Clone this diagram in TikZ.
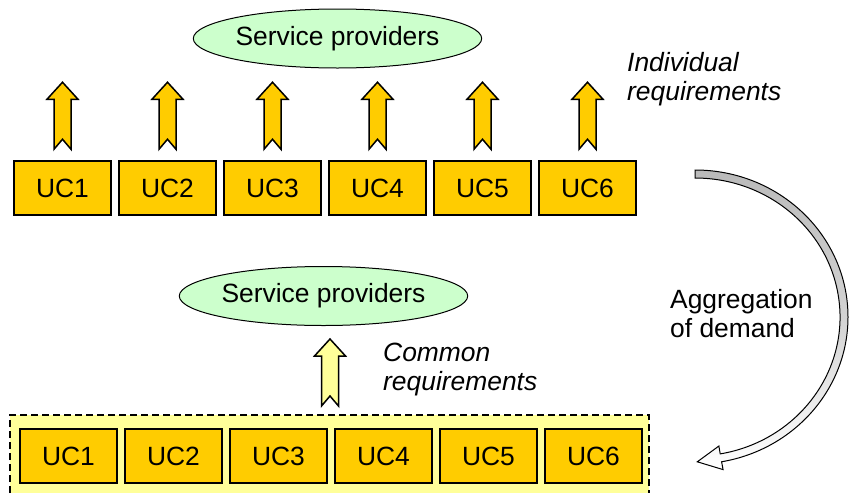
\documentclass[tikz,border=0pt]{standalone}
\usepackage{fontspec}
\setmainfont{Liberation Sans}
\usetikzlibrary{calc,shapes.geometric}
\definecolor{ucyellow}{HTML}{FFCC00}
\definecolor{poolyellow}{HTML}{FFFF99}
\definecolor{provgreen}{HTML}{CCFFCC}
\begin{document}
\begin{tikzpicture}[x=1pt,y=-1pt,
  every node/.style={font=\fontsize{26.4}{29}\selectfont},
  ucbox/.style={draw, line width=1.5pt, fill=ucyellow, minimum width=97pt,
    minimum height=54pt, inner sep=0pt},
  provider/.style={ellipse, draw, line width=1pt, fill=provgreen,
    minimum width=253pt, minimum height=59pt, inner sep=0pt},
  note/.style={align=left, inner sep=0pt, anchor=base west},
  reqarrow/.pic={
    \filldraw[line width=1.5pt, line join=miter, pic actions]
      (0,-33.5) -- (15.5,-16.5) -- (8.5,-16.5) -- (8.5,33.5) -- (0,23.5)
      -- (-8.5,33.5) -- (-8.5,-16.5) -- (-15.5,-16.5) -- cycle;
  }
]
\useasboundingbox (0,0) rectangle (849,493);

% individual use cases and their separate requirements
\node[provider] (sp1) at (337.5,38.5) {Service providers};
\foreach \i/\x in {1/62.5,2/167.5,3/272.5,4/377.5,5/482.5,6/587.5} {
  \node[ucbox] (t\i) at (\x,188) {UC\i};
  \pic[fill=ucyellow] at ($(t\i.north)+(0,-44.5)$) {reqarrow};
}
\node[note, font=\fontsize{26.4}{29}\selectfont\itshape] (indiv) at (627,100)
  {Individual\\requirements};

% pooled use cases with one common requirement
\fill[poolyellow] (10,415) rectangle (649,493);
\draw[line width=1.5pt, dash pattern=on 7pt off 4pt]
  (10,493) -- (10,415) -- (649,415) -- (649,493);
\foreach \i/\x in {1/68.5,2/173.5,3/278.5,4/383.5,5/488.5,6/593.5}
  \node[ucbox] (b\i) at (\x,456) {UC\i};
\node[provider] (sp2) at (323.5,296) {Service providers};
\pic[fill=poolyellow] at (330,372.5) {reqarrow};
\node[note, font=\fontsize{26.4}{29}\selectfont\itshape] (common) at (383,390)
  {Common\\requirements};

% curved arrow: aggregation step
\draw[line width=1pt, line join=miter, top color=black!27, bottom color=white,
      middle color=black!17]
  (695,170) arc[start angle=-90, end angle=80, x radius=153, y radius=147]
  -- (723.1,469.6) -- (697.3,461.8) -- (718.9,446.0) -- (720.2,453.9)
  arc[start angle=80, end angle=-90, x radius=145, y radius=139] -- cycle;
\node[note] (agg) at (670,337) {Aggregation\\of demand};
\end{tikzpicture}
\end{document}
